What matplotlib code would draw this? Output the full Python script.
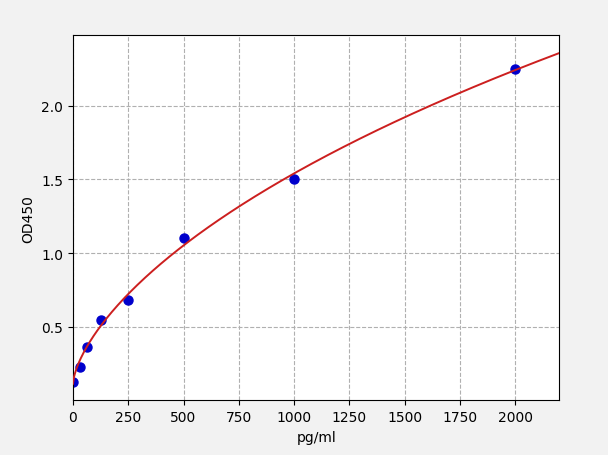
import numpy as np
import matplotlib
matplotlib.use("Agg")
import matplotlib.pyplot as plt

# Standard concentrations (pg/ml) and measured OD450
conc = [0, 31.25, 62.5, 125, 250, 500, 1000, 2000]
od450 = [0.127, 0.228, 0.364, 0.548, 0.683, 1.104, 1.500, 2.252]


def four_pl(x, a, b, c, d):
    return d + (a - d) / (1 + (x / c) ** b)


def fit_four_pl(x, y):
    # grid over b, c; a and d solved linearly
    x = np.asarray(x, float)
    y = np.asarray(y, float)
    best = None
    for b in np.linspace(0.3, 2.0, 86):
        for c in np.geomspace(50, 50000, 200):
            s = (x / c) ** b
            s = s / (1 + s)
            A = np.column_stack((1 - s, s))
            coef, *_ = np.linalg.lstsq(A, y, rcond=None)
            err = np.sum((A @ coef - y) ** 2)
            if best is None or err < best[0]:
                best = (err, coef[0], b, c, coef[1])
    return best[1:]


a, b, c, d = fit_four_pl(conc, od450)

fig = plt.figure(figsize=(6.08, 4.56), dpi=100, facecolor="#f2f2f2")
ax = fig.add_axes([0.12, 0.12, 0.8, 0.8])
ax.set_facecolor("white")

xs = np.linspace(0, 2200, 500)
ax.plot(conc, od450, "o", color="#0000cc", markersize=6.5, zorder=2)
ax.plot(xs, four_pl(xs, a, b, c, d), color="#cc1f1f", lw=1.4, zorder=3)

ax.set_xlim(0, 2200)
ax.set_ylim(0, max(od450) * 1.1)
ax.set_xticks(np.arange(0, 2001, 250))
ax.set_yticks([0.5, 1.0, 1.5, 2.0])
ax.grid(True, linestyle="--", color="#b0b0b0", lw=0.8)
ax.set_axisbelow(True)
ax.set_xlabel("pg/ml")
ax.set_ylabel("OD450")

fig.savefig("out.png", dpi=100, facecolor=fig.get_facecolor())
